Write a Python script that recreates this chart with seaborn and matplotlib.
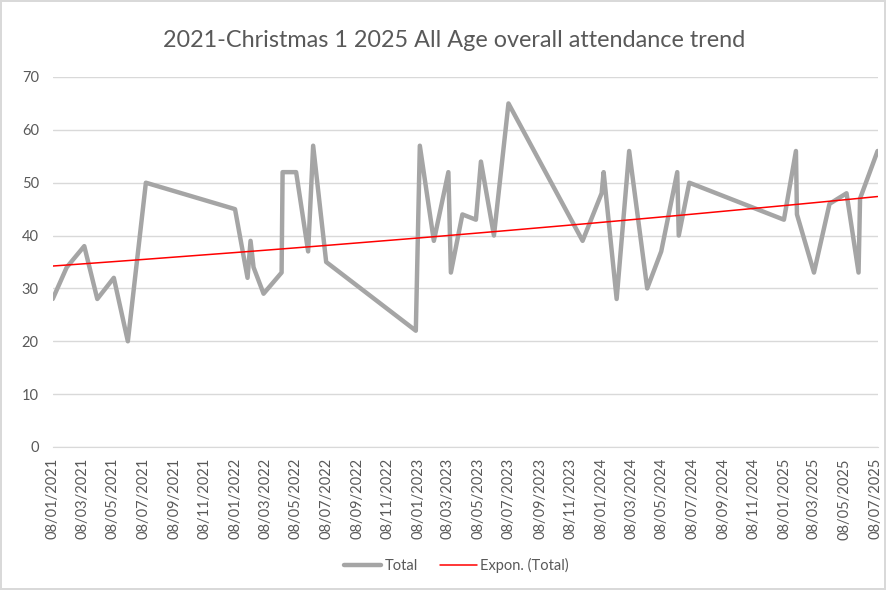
import numpy as np
import pandas as pd
import matplotlib
matplotlib.use("Agg")
import matplotlib.pyplot as plt
import matplotlib.dates as mdates
import seaborn as sns

# session dates and total attendance
session_dates = [
    "2021-01-08", "2021-02-05", "2021-03-12", "2021-04-07", "2021-05-10", "2021-06-07",
    "2021-07-13", "2022-01-07", "2022-02-01", "2022-02-07", "2022-02-13", "2022-03-05",
    "2022-04-10", "2022-04-12", "2022-05-09", "2022-06-02", "2022-06-12", "2022-07-08",
    "2023-01-03", "2023-01-11", "2023-02-08", "2023-03-09", "2023-03-14", "2023-04-06",
    "2023-05-03", "2023-05-13", "2023-06-08", "2023-07-07", "2023-12-02", "2024-01-09",
    "2024-01-13", "2024-02-08", "2024-03-04", "2024-04-09", "2024-05-07", "2024-06-08",
    "2024-06-11", "2024-07-02", "2025-01-07", "2025-01-31", "2025-02-02", "2025-03-08",
    "2025-04-08", "2025-05-12", "2025-06-05", "2025-06-08", "2025-07-13",
]
totals = [
    28, 34, 38, 28, 32, 20,
    50, 45, 32, 39, 34, 29,
    33, 52, 52, 37, 57, 35,
    22, 57, 39, 52, 33, 44,
    43, 54, 40, 65, 39, 48,
    52, 28, 56, 30, 37, 52,
    40, 50, 43, 56, 44, 33,
    46, 48, 33, 47, 56,
]

title = "2021-Christmas 1 2025 All Age overall attendance trend"
grey_text = "#595959"

df = pd.DataFrame({"Date": pd.to_datetime(session_dates), "Total": totals})

# exponential trendline, fitted like Excel (least squares on ln y)
t = (df["Date"] - df["Date"].iloc[0]).dt.days.to_numpy()
b, ln_a = np.polyfit(t, np.log(df["Total"]), 1)
df["Expon"] = np.exp(ln_a + b * t)

sns.set_style("white")
plt.rcParams["font.family"] = ["Lato", "DejaVu Sans"]

fig = plt.figure(figsize=(8.86, 5.90), dpi=100)
ax = fig.add_axes([0.0595, 0.2424, 0.931, 0.6271])

sns.lineplot(data=df, x="Date", y="Total", ax=ax, color="#a5a5a5", linewidth=3.2,
             label="Total", legend=False)
ax.plot(df["Date"], df["Expon"], color="#ff0000", linewidth=1.1, label="Expon. (Total)")

ax.set_ylim(0, 70)
ax.set_yticks(range(0, 71, 10))
ax.set_xlim(df["Date"].iloc[0], df["Date"].iloc[-1])
ax.xaxis.set_major_locator(mdates.MonthLocator(bymonth=[1, 3, 5, 7, 9, 11], bymonthday=8))
ax.xaxis.set_major_formatter(mdates.DateFormatter("%d/%m/%Y"))
ax.grid(axis="y", color="#d9d9d9", linewidth=1)
ax.set_axisbelow(True)
for side in ["top", "right", "left"]:
    ax.spines[side].set_visible(False)
ax.spines["bottom"].set_color("#d9d9d9")
ax.tick_params(axis="x", rotation=90, colors=grey_text, labelsize=10.5, length=5,
               color="#d9d9d9", direction="out", pad=3)
ax.tick_params(axis="y", colors=grey_text, labelsize=10.5, length=0, pad=10)
ax.set_xlabel("")
ax.set_ylabel("")

fig.text(0.512, 0.932, title, ha="center", va="center", fontsize=16.8, color=grey_text)

handles, labels = ax.get_legend_handles_labels()
fig.legend(handles, labels, loc="center", bbox_to_anchor=(0.515, 0.041), ncol=2,
           frameon=False, fontsize=10.5, labelcolor=grey_text, handlelength=2.6,
           handletextpad=0.2, columnspacing=1.5)

fig.patch.set_edgecolor("#d9d9d9")
fig.patch.set_linewidth(1.5)
fig.savefig("out.png", dpi=100)
